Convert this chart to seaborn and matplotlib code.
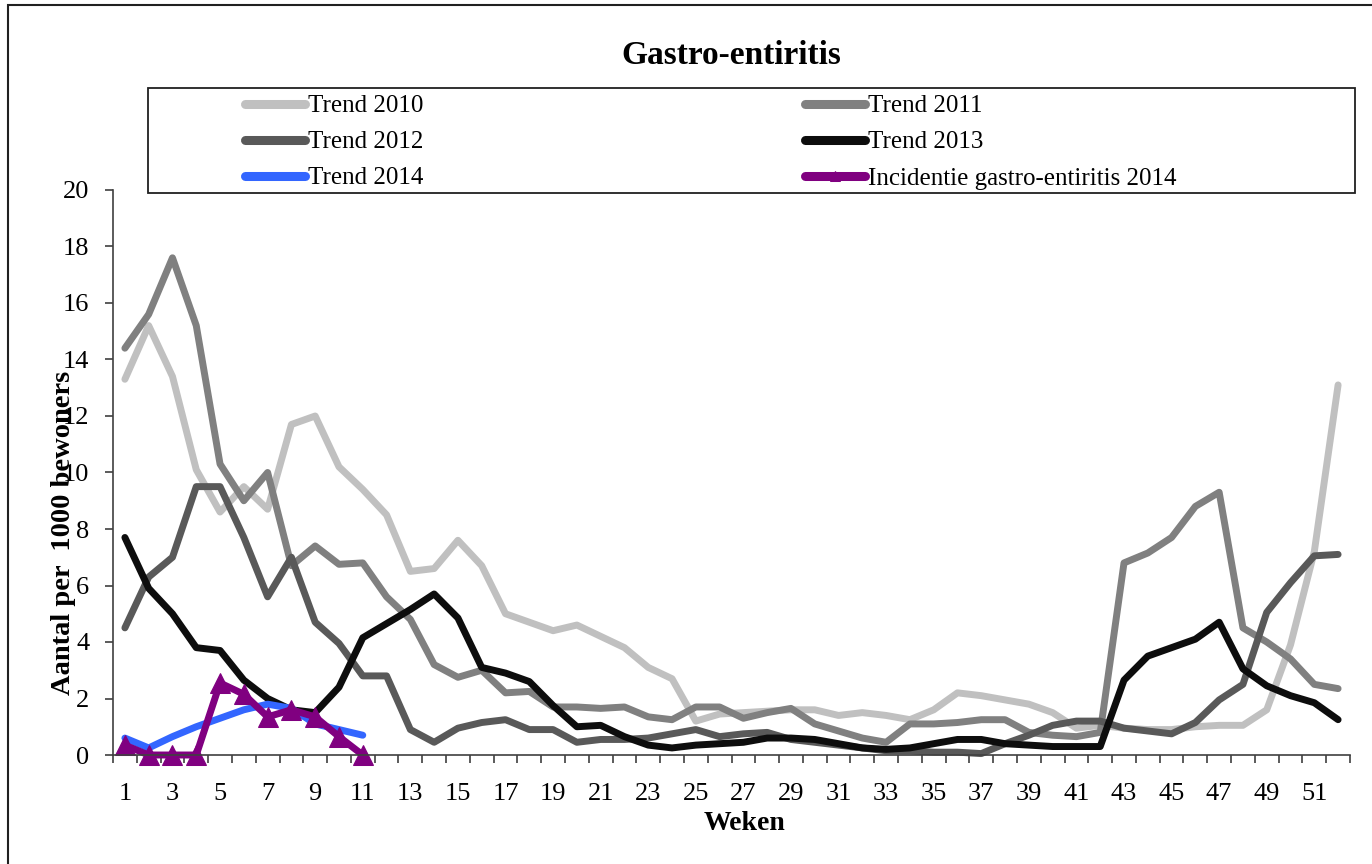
import matplotlib
matplotlib.use('Agg')
import matplotlib.pyplot as plt
from matplotlib.patches import Rectangle
import seaborn as sns


# Data -----------------------------------------------------------------------

weeks = list(range(1, 53))
weeks_2014 = list(range(1, 12))
week_labels = [str(w) for w in range(1, 52, 2)]

trend_2010 = [13.3, 15.2, 13.4, 10.1, 8.6, 9.5, 8.7, 11.7, 12.0, 10.2,
              9.4, 8.5, 6.5, 6.6, 7.6, 6.7, 5.0, 4.7, 4.4, 4.6,
              4.2, 3.8, 3.1, 2.7, 1.2, 1.45, 1.5, 1.55, 1.6, 1.6,
              1.4, 1.5, 1.4, 1.25, 1.6, 2.2, 2.1, 1.95, 1.8, 1.5,
              0.95, 1.05, 0.95, 0.9, 0.9, 1.0, 1.05, 1.05, 1.6, 3.9,
              7.2, 13.1]
trend_2011 = [14.4, 15.6, 17.6, 15.2, 10.3, 9.0, 10.0, 6.7, 7.4, 6.75,
              6.8, 5.6, 4.8, 3.2, 2.75, 3.0, 2.2, 2.25, 1.7, 1.7,
              1.65, 1.7, 1.35, 1.25, 1.7, 1.7, 1.3, 1.5, 1.65, 1.1,
              0.85, 0.6, 0.45, 1.1, 1.1, 1.15, 1.25, 1.25, 0.8, 0.7,
              0.65, 0.8, 6.8, 7.15, 7.7, 8.8, 9.3, 4.5, 4.0, 3.4,
              2.5, 2.35]
trend_2012 = [4.5, 6.3, 7.0, 9.5, 9.5, 7.7, 5.6, 7.0, 4.7, 3.95,
              2.8, 2.8, 0.9, 0.45, 0.95, 1.15, 1.25, 0.9, 0.9, 0.45,
              0.55, 0.55, 0.6, 0.75, 0.9, 0.65, 0.75, 0.8, 0.55, 0.45,
              0.35, 0.25, 0.15, 0.15, 0.1, 0.1, 0.05, 0.4, 0.7, 1.05,
              1.2, 1.2, 0.95, 0.85, 0.75, 1.15, 1.95, 2.5, 5.05, 6.1,
              7.05, 7.1]
trend_2013 = [7.7, 5.9, 5.0, 3.8, 3.7, 2.65, 2.0, 1.6, 1.5, 2.4,
              4.15, 4.65, 5.15, 5.7, 4.85, 3.1, 2.9, 2.6, 1.75, 1.0,
              1.05, 0.65, 0.35, 0.25, 0.35, 0.4, 0.45, 0.6, 0.6, 0.55,
              0.4, 0.25, 0.2, 0.25, 0.4, 0.55, 0.55, 0.4, 0.35, 0.3,
              0.3, 0.3, 2.65, 3.5, 3.8, 4.1, 4.7, 3.05, 2.45, 2.1,
              1.85, 1.25]
trend_2014 = [0.6, 0.25, 0.65, 1.0, 1.3, 1.6, 1.8, 1.65, 1.1, 0.9, 0.7]
incidentie_2014 = [0.35, 0.0, 0.0, 0.0, 2.55, 2.15, 1.35, 1.6, 1.35, 0.65, 0.0]


# Style ----------------------------------------------------------------------

sns.set_style('ticks')
plt.rcParams['font.family'] = ['Liberation Serif', 'DejaVu Serif']
plt.rcParams['text.color'] = 'black'

W, H = 1372, 864
fig = plt.figure(figsize=(W / 100, H / 100), dpi=100)
ax = fig.add_axes([113 / W, 109 / H, 1237 / W, 565 / H])

line_kw = dict(lw=5, solid_capstyle='round', solid_joinstyle='round', clip_on=False)

series = [
    ('Trend 2010', weeks, trend_2010, '#C0C0C0'),
    ('Trend 2011', weeks, trend_2011, '#808080'),
    ('Trend 2012', weeks, trend_2012, '#595959'),
    ('Trend 2013', weeks, trend_2013, '#0D0D0D'),
    ('Trend 2014', weeks_2014, trend_2014, '#3366FF'),
]
for label, x, y, col in series:
    sns.lineplot(x=x, y=y, ax=ax, color=col, label=label, **line_kw)

sns.lineplot(x=weeks_2014, y=incidentie_2014, ax=ax, color='#800080',
             label='Incidentie gastro-entiritis 2014', marker='^',
             markersize=15, markeredgecolor='#800080', **line_kw)

if ax.get_legend() is not None:
    ax.get_legend().remove()

# Axes -----------------------------------------------------------------------

ax.set_xlim(0.5, 52.5)
ax.set_ylim(0, 20)
ax.set_yticks(range(0, 21, 2))
ax.set_xticks([w + 0.5 for w in range(0, 53)])
ax.set_xticklabels([])
ax.set_xticks(range(1, 52, 2), minor=True)
ax.set_xticklabels(week_labels, minor=True)
ax.tick_params(axis='x', which='major', length=6, width=1.2, color='#404040')
ax.tick_params(axis='x', which='minor', length=0, labelsize=19, pad=20,
               labelcolor='black')
ax.tick_params(axis='y', length=6, width=1.2, color='#404040', labelsize=19,
               pad=11, labelcolor='black')
ax.set_xlabel('')
ax.set_ylabel('')
sns.despine(ax=ax)
for s in ('left', 'bottom'):
    ax.spines[s].set_color('#404040')
    ax.spines[s].set_linewidth(1.2)

# Texts ----------------------------------------------------------------------

fig.text(731 / W, 1 - 55 / H, 'Gastro-entiritis', ha='center', va='center',
         fontsize=24, fontweight='bold')
fig.text(745 / W, 1 - 823 / H, 'Weken', ha='center', va='center',
         fontsize=20, fontweight='bold')
fig.text(64 / W, 1 - 533 / H, 'Aantal per  1000 bewoners', rotation=90,
         ha='center', va='center', fontsize=20.5, fontweight='bold')

# Legend (two columns, row-wise like the original) ---------------------------

handles, labels = ax.get_legend_handles_labels()
leg_kw = dict(loc='upper left', frameon=False, fontsize=18, handlelength=2.4,
              handletextpad=0.12, labelspacing=0.54, borderpad=0,
              borderaxespad=0, markerscale=0.5)
leg1 = fig.legend([handles[i] for i in (0, 2, 4)], [labels[i] for i in (0, 2, 4)],
                  bbox_to_anchor=(245 / W, 1 - 95 / H), **leg_kw)
leg2 = fig.legend([handles[i] for i in (1, 3, 5)], [labels[i] for i in (1, 3, 5)],
                  bbox_to_anchor=(805 / W, 1 - 95 / H), **leg_kw)
for leg in (leg1, leg2):
    for ln in leg.get_lines():
        ln.set_linewidth(6.5)
        ln.set_solid_capstyle('round')

fig.add_artist(Rectangle((148 / W, 1 - 193 / H), 1207 / W, 105 / H,
                         transform=fig.transFigure, fill=False,
                         edgecolor='#202020', lw=1.3))
# outer chart border (left and top visible)
fig.add_artist(Rectangle((7.5 / W, -0.02), 1.05, 1.02 - 5.5 / H,
                         transform=fig.transFigure, fill=False,
                         edgecolor='#202020', lw=1.5, clip_on=False))

fig.savefig('out.png', dpi=100)
